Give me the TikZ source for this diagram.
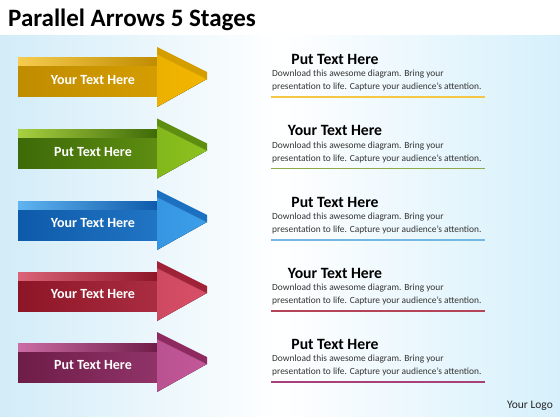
\documentclass[tikz,border=0pt]{standalone}
\usepackage{fontspec}
\setmainfont{Carlito}
\definecolor{bgL}{HTML}{D2ECF8}
\definecolor{bgR}{HTML}{D6F0FB}
\definecolor{bodygray}{HTML}{333333}
% gold
\definecolor{gA}{HTML}{C08C00}\definecolor{gB}{HTML}{F2B600}\definecolor{gC}{HTML}{F6CC50}\definecolor{gD}{HTML}{D49E00}\definecolor{gL}{HTML}{F4C845}
% green
\definecolor{nA}{HTML}{3E6A08}\definecolor{nB}{HTML}{8CC21E}\definecolor{nC}{HTML}{A8D040}\definecolor{nD}{HTML}{5E8E10}\definecolor{nL}{HTML}{8FA848}
% blue
\definecolor{bA}{HTML}{0E5AAA}\definecolor{bB}{HTML}{3C9EEA}\definecolor{bC}{HTML}{60B4F0}\definecolor{bD}{HTML}{1C70C0}\definecolor{bL}{HTML}{72B8E2}
% red
\definecolor{rA}{HTML}{8C1526}\definecolor{rB}{HTML}{D85068}\definecolor{rC}{HTML}{DC6478}\definecolor{rD}{HTML}{A02236}\definecolor{rL}{HTML}{B64458}
% magenta
\definecolor{mA}{HTML}{6E1C48}\definecolor{mB}{HTML}{C4589A}\definecolor{mC}{HTML}{CC6CA6}\definecolor{mD}{HTML}{8E2A60}\definecolor{mL}{HTML}{A8407A}
\tikzset{
  arrowlbl/.style={text=white, font=\fontsize{14}{16}\selectfont\bfseries, inner sep=0pt},
  headlbl/.style={text=black, font=\fontsize{15.7}{18}\selectfont\bfseries, inner sep=0pt},
  bodytxt/.style={text=bodygray, font=\fontsize{9.4}{13}\selectfont, align=left, inner sep=0pt, anchor=west},
  underline/.style={line width=1.6pt}
}
\newcommand\stagearrow[9]{%
\begin{scope}[shift={(0,#2)}]
  \fill[left color=#5A, right color=#5A!60!#5B] (18,-11) rectangle (158,20);
  \fill[left color=#5C, right color=#5A] (18,-19) rectangle (158,-11);
  \fill[left color=#5B!88!#5A, right color=#5B] (157,-23) -- (207,2) -- (157,30) -- cycle;
  \fill[#5D] (157,-30) -- (207,-5) -- (207,2) -- (157,-23) -- cycle;
  \node[arrowlbl] (#1a) at (93,3.5) {#3};
  \node[headlbl] (#1h) at (335,-18) {#4};
  \node[bodytxt] (#1b) at (272,3.5) {Download this awesome diagram. Bring your\\presentation to life. Capture your audience’s attention.};
  \coordinate (#1s) at (271,20);
  \coordinate (#1e) at (485,20);
  \draw[underline, #5L] (#1s) -- (#1e);
\end{scope}}
\begin{document}
\begin{tikzpicture}[x=1pt,y=-1pt]
\useasboundingbox (0,0) rectangle (560,420);
\fill[white] (0,0) rectangle (560,420);
\shade[left color=bgL, right color=bgR, middle color=white] (0,36) rectangle (560,416);
\node[anchor=base west, inner sep=0pt, font=\fontsize{25}{28}\selectfont\bfseries] (title) at (8,27) {Parallel Arrows 5 Stages};
\stagearrow{s1}{77}{Your Text Here}{Put Text Here}{g}{}{}{}{}
\stagearrow{s2}{148.5}{Put Text Here}{Your Text Here}{n}{}{}{}{}
\stagearrow{s3}{220}{Your Text Here}{Put Text Here}{b}{}{}{}{}
\stagearrow{s4}{291}{Your Text Here}{Your Text Here}{r}{}{}{}{}
\stagearrow{s5}{362}{Put Text Here}{Put Text Here}{m}{}{}{}{}
\node[inner sep=0pt, text=black!85, font=\fontsize{11.5}{13}\selectfont] (logo) at (530,406) {Your Logo};
\end{tikzpicture}
\end{document}
